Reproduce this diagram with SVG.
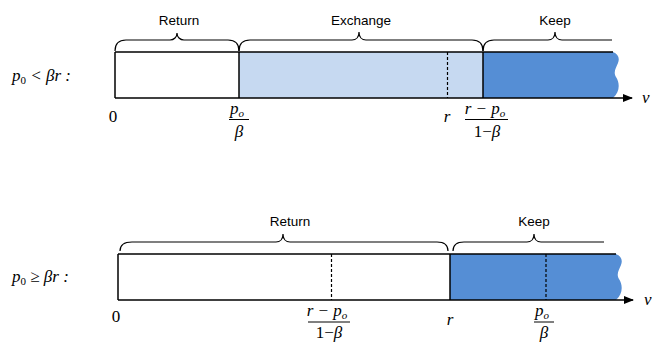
<svg xmlns="http://www.w3.org/2000/svg" width="656" height="342" viewBox="0 0 656 342">
<style>
.lbl{font-family:"Liberation Sans",Arial,sans-serif;font-size:13.5px;fill:#000;text-anchor:middle}
.m{font-family:"Liberation Serif","Times New Roman",serif;font-style:italic;font-size:17px;fill:#000}
.mu{font-family:"Liberation Serif","Times New Roman",serif;font-size:17px;fill:#000}
.sub{font-size:11px}
.up{font-style:normal}
.it{font-style:italic}
.c{text-anchor:middle}
.edge{stroke:#000;stroke-width:1.5;fill:none}
.dash{stroke:#000;stroke-width:1.2;stroke-dasharray:3,2;fill:none}
.brace{stroke:#000;stroke-width:1.2;fill:none}
.fl{stroke:#000;stroke-width:1;fill:none}
.light{fill:#C6D9F1}
.dark{fill:#558ED5}
</style>
<defs>
<marker id="arr" markerWidth="10" markerHeight="8" refX="9" refY="4" orient="auto" markerUnits="userSpaceOnUse">
<path d="M0,0 L10,4 L0,8 Z" fill="#000"/>
</marker>
</defs>

<g id="row-top">
  <g id="top-return"><rect x="115" y="52" width="124" height="46" fill="#fff"/></g>
  <g id="top-exchange"><rect class="light" x="239" y="52" width="244" height="46"/></g>
  <g id="top-keep"><path class="dark" d="M483,52 L613,52 C618,54 620,58 618,63 C616,68 613,72 616,77 C620,83 620,92 613,98 L483,98 Z"/></g>
  <line class="edge" x1="115" y1="52" x2="613" y2="52"/>
  <line class="edge" x1="115" y1="98" x2="632" y2="98" marker-end="url(#arr)"/>
  <line class="edge" x1="115" y1="52" x2="115" y2="98"/>
  <line class="edge" x1="239" y1="52" x2="239" y2="98"/>
  <line class="edge" x1="483" y1="52" x2="483" y2="98"/>
  <line class="dash" x1="447.5" y1="52" x2="447.5" y2="98"/>
  <text class="m" x="12" y="81">p<tspan class="sub up" dy="3">0</tspan><tspan dy="-3"> &lt; βr :</tspan></text>
  <text class="mu c" x="113" y="122">0</text>
  <text class="m c" x="237" y="114">p<tspan class="sub" dy="3">o</tspan></text>
  <line class="fl" x1="229" y1="119.5" x2="249" y2="119.5"/>
  <text class="m c" x="239" y="137">β</text>
  <text class="m c" x="447" y="122">r</text>
  <text class="m c" x="485" y="114">r − p<tspan class="sub" dy="3">o</tspan></text>
  <line class="fl" x1="465" y1="119.5" x2="508" y2="119.5"/>
  <text class="mu c" x="487" y="137">1−<tspan class="it">β</tspan></text>
  <text class="m" x="642" y="103">v</text>
</g>

<g id="row-bottom">
  <g id="bot-return"><rect x="118" y="254" width="332" height="46" fill="#fff"/></g>
  <g id="bot-keep"><path class="dark" d="M450,254 L616,254 C621,256 623,260 621,265 C619,270 616,274 619,279 C623,285 623,294 616,300 L450,300 Z"/></g>
  <line class="edge" x1="118" y1="254" x2="616" y2="254"/>
  <line class="edge" x1="118" y1="300" x2="633" y2="300" marker-end="url(#arr)"/>
  <line class="edge" x1="118" y1="254" x2="118" y2="300"/>
  <line class="edge" x1="450" y1="254" x2="450" y2="300"/>
  <line class="dash" x1="331.5" y1="254" x2="331.5" y2="300"/>
  <line class="dash" x1="546" y1="254" x2="546" y2="300"/>
  <text class="m" x="12" y="282">p<tspan class="sub up" dy="3">0</tspan><tspan dy="-3"> ≥ βr :</tspan></text>
  <text class="mu c" x="116" y="322">0</text>
  <text class="m c" x="327" y="316">r − p<tspan class="sub" dy="3">o</tspan></text>
  <line class="fl" x1="308" y1="322" x2="350" y2="322"/>
  <text class="mu c" x="329" y="338">1−<tspan class="it">β</tspan></text>
  <text class="m c" x="450" y="325">r</text>
  <text class="m c" x="542" y="316">p<tspan class="sub" dy="3">o</tspan></text>
  <line class="fl" x1="534" y1="322" x2="554" y2="322"/>
  <text class="m c" x="544" y="338">β</text>
  <text class="m" x="644" y="305">v</text>
</g>

<g id="braces">
  <path class="brace" d="M115,51 C115,44 118,40 126,40 L170,40 C174,40 177,37 177,33 C177,37 180,40 184,40 L228,40 C236,40 239,44 239,51"/>
  <path class="brace" d="M239,51 C239,44 242,40 250,40 L352,40 C356,40 359,37 359,32 C359,37 362,40 366,40 L472,40 C480,40 483,44 483,51"/>
  <path class="brace" d="M483,51 C483,44 486,40 494,40 L548,40 C552,40 555,37 555,32 C555,37 558,40 562,40 L612,40"/>
  <path class="brace" d="M120,251 C120,245 124,242 132,242 L276,242 C280,242 283,239 283,234 C283,239 286,242 290,242 L437,242 C444,242 448,245 448,251"/>
  <path class="brace" d="M453,251 C453,245 457,242 464,242 L527,242 C531,242 534,239 534,234 C534,239 537,242 541,242 L604,242"/>
</g>

<g id="labels">
  <text class="lbl" x="179" y="25">Return</text>
  <text class="lbl" x="361" y="25">Exchange</text>
  <text class="lbl" x="555" y="25">Keep</text>
  <text class="lbl" x="290" y="226">Return</text>
  <text class="lbl" x="534" y="226">Keep</text>
</g>
</svg>
